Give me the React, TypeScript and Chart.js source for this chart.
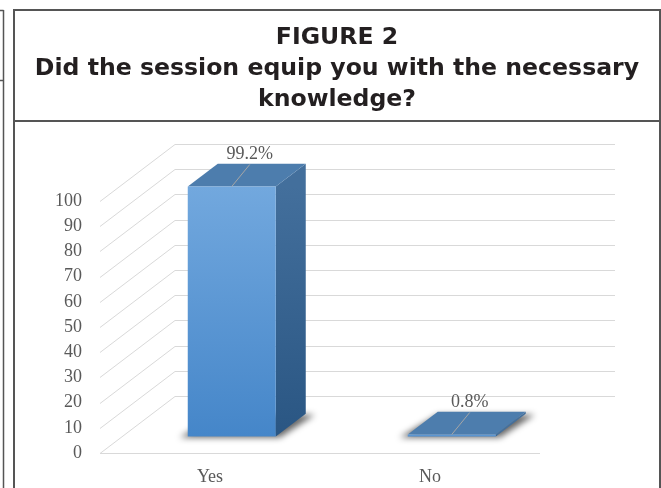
import React, { useEffect, useRef } from "react";
import { Chart, registerables } from "chart.js";

Chart.register(...registerables);

const categories = ["Yes", "No"];
const values = [99.2, 0.8];
const valueLabels = ["99.2%", "0.8%"];
const yMin = 0;
const yMax = 100;
const yStep = 10;
const titleLines = [
  "FIGURE 2",
  "Did the session equip you with the necessary",
  "knowledge?",
];

const W = 661;
const H = 488;
const DEPTH = { x: 75, y: -57 };
const BAR_FRONT = 0.29;
const BAR_BACK = 0.69;
const SERIF = "'Liberation Serif', 'Times New Roman', serif";
const SANS = "'DejaVu Sans', 'Open Sans', sans-serif";

const framePlugin = {
  id: "frame",
  beforeDraw(chart: any) {
    const ctx = chart.ctx;
    ctx.save();
    ctx.fillStyle = "#ffffff";
    ctx.fillRect(0, 0, W, H);
    ctx.strokeStyle = "#555555";
    ctx.lineWidth = 1.5;
    // left neighbour fragment
    ctx.beginPath();
    ctx.moveTo(3.5, 10);
    ctx.lineTo(3.5, H);
    ctx.moveTo(0, 10.5);
    ctx.lineTo(3.5, 10.5);
    ctx.moveTo(0, 80.5);
    ctx.lineTo(3.5, 80.5);
    ctx.stroke();
    // main box
    ctx.lineWidth = 2;
    ctx.beginPath();
    ctx.moveTo(14, H + 2);
    ctx.lineTo(14, 10);
    ctx.lineTo(660, 10);
    ctx.lineTo(660, H + 2);
    ctx.moveTo(14, 121);
    ctx.lineTo(660, 121);
    ctx.stroke();
    // title
    ctx.fillStyle = "#231f20";
    ctx.font = `700 23.6px ${SANS}`;
    ctx.textAlign = "center";
    ctx.textBaseline = "middle";
    titleLines.forEach((t, i) => {
      ctx.fillText(t, 337, 38 + i * 31);
    });
    ctx.restore();
  },
};

const threeDPlugin = {
  id: "threeD",
  beforeDatasetsDraw(chart: any) {
    const ctx = chart.ctx;
    const ys = chart.scales.y;
    const { left, right } = chart.chartArea;
    ctx.save();
    ctx.strokeStyle = "#d9d9d9";
    ctx.lineWidth = 1;
    for (let v = yMin; v <= yMax; v += yStep) {
      const py = Math.round(ys.getPixelForValue(v)) + 0.5;
      ctx.beginPath();
      ctx.moveTo(left, py);
      ctx.lineTo(left + DEPTH.x, py + DEPTH.y);
      ctx.lineTo(right + DEPTH.x, py + DEPTH.y);
      ctx.stroke();
    }
    const p0 = Math.round(ys.getPixelForValue(0)) + 0.5;
    ctx.beginPath();
    ctx.moveTo(left, p0);
    ctx.lineTo(right, p0);
    ctx.stroke();
    ctx.restore();
  },
  afterDatasetsDraw(chart: any) {
    const ctx = chart.ctx;
    const meta = chart.getDatasetMeta(0);
    const ox = DEPTH.x * BAR_FRONT;
    const oy = DEPTH.y * BAR_FRONT;
    const dx = DEPTH.x * (BAR_BACK - BAR_FRONT);
    const dy = DEPTH.y * (BAR_BACK - BAR_FRONT);
    meta.data.forEach((el: any, i: number) => {
      const L = el.x - el.width / 2 + ox;
      const R = el.x + el.width / 2 + ox;
      const T = el.y + oy;
      const B = el.base + oy;
      ctx.save();
      // shadow on floor
      ctx.filter = "blur(3px)";
      ctx.fillStyle = "rgba(0,0,0,0.6)";
      ctx.beginPath();
      ctx.moveTo(L - 8, B + 1);
      ctx.lineTo(R + 4, B + 1);
      ctx.lineTo(R + dx + 9, B + dy + 1);
      ctx.lineTo(L + dx, B + dy + 1);
      ctx.closePath();
      ctx.fill();
      ctx.filter = "none";
      // side face
      const sg = ctx.createLinearGradient(0, T, 0, B);
      sg.addColorStop(0, "#436f9c");
      sg.addColorStop(1, "#2a5683");
      ctx.fillStyle = sg;
      ctx.beginPath();
      ctx.moveTo(R, T);
      ctx.lineTo(R + dx, T + dy);
      ctx.lineTo(R + dx, B + dy);
      ctx.lineTo(R, B);
      ctx.closePath();
      ctx.fill();
      // top face
      ctx.fillStyle = "#4d7dad";
      ctx.beginPath();
      ctx.moveTo(L, T);
      ctx.lineTo(R, T);
      ctx.lineTo(R + dx, T + dy);
      ctx.lineTo(L + dx, T + dy);
      ctx.closePath();
      ctx.fill();
      // front face
      const fg = ctx.createLinearGradient(0, T, 0, B);
      fg.addColorStop(0, "#72a8de");
      fg.addColorStop(1, "#4586c9");
      ctx.fillStyle = fg;
      ctx.fillRect(L, T, R - L, Math.max(B - T, 1.5));
      // data label + leader
      const cx = (L + R) / 2;
      const lx = cx + 18;
      const ly = T - 32;
      ctx.strokeStyle = "#a6a6a6";
      ctx.lineWidth = 1;
      ctx.beginPath();
      ctx.moveTo(lx, ly + 10);
      ctx.lineTo(cx, T);
      ctx.stroke();
      ctx.fillStyle = "#595959";
      ctx.font = `18px ${SERIF}`;
      ctx.textAlign = "center";
      ctx.textBaseline = "middle";
      ctx.fillText(valueLabels[i], lx, ly);
      ctx.restore();
    });
  },
};

export default function App() {
  const ref = useRef<HTMLCanvasElement | null>(null);
  useEffect(() => {
    if (!ref.current) return;
    const chart = new Chart(ref.current, {
      type: "bar",
      data: {
        labels: categories,
        datasets: [
          {
            data: values,
            backgroundColor: "rgba(0,0,0,0)",
            borderWidth: 0,
            categoryPercentage: 1,
            barPercentage: 0.4,
          },
        ],
      },
      options: {
        animation: false,
        responsive: false,
        devicePixelRatio: 1,
        layout: { padding: { top: 201, right: 121, left: 0, bottom: 0 } },
        plugins: {
          legend: { display: false },
          title: { display: false },
          tooltip: { enabled: false },
        },
        scales: {
          x: {
            type: "category",
            grid: { display: false, drawTicks: false },
            border: { display: false },
            ticks: { color: "#595959", font: { family: SERIF, size: 18 }, padding: 13 },
            afterFit: (axis: any) => {
              axis.height = 35;
            },
          },
          y: {
            min: yMin,
            max: yMax,
            grid: { display: false, drawTicks: false },
            border: { display: false },
            ticks: {
              stepSize: yStep,
              autoSkip: false,
              color: "#595959",
              font: { family: SERIF, size: 18 },
              padding: 18,
            },
            afterFit: (axis: any) => {
              axis.width = 100;
            },
          },
        },
      },
      plugins: [framePlugin, threeDPlugin],
    });
    return () => chart.destroy();
  }, []);
  return (
    <div style={{ position: "absolute", left: 0, top: 0, width: W, height: H }}>
      <canvas ref={ref} width={W} height={H} style={{ display: "block", width: W, height: H }} />
    </div>
  );
}
